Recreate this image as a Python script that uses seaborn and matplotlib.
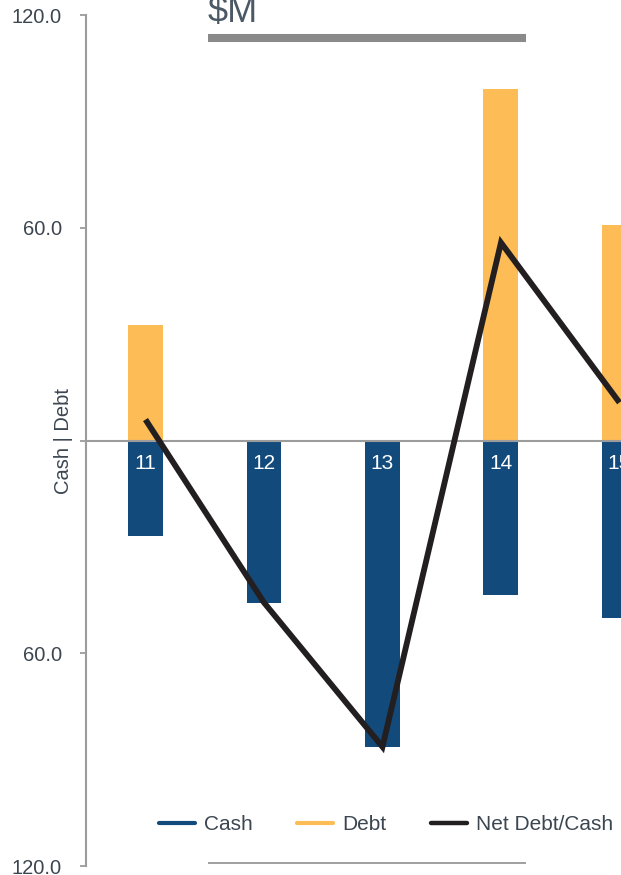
import numpy as np
import pandas as pd
import seaborn as sns
import matplotlib
matplotlib.use("Agg")
import matplotlib.pyplot as plt
from matplotlib.lines import Line2D

# ---- data ($M) ----
years = ["11", "12", "13", "14", "15"]
cash = [27.0, 45.7, 86.4, 43.5, 50.0]        # drawn below zero
debt = [32.6, 0.0, 0.0, 99.0, 60.7]          # drawn above zero
net_debt_cash = [5.9, -45.7, -86.4, 55.8, 10.7]

tick_values = [-120, -60, 0, 60, 120]
tick_labels = ["120.0", "60.0", "", "60.0", "120.0"]

# ---- style ----
CASH_C = "#134a7c"
DEBT_C = "#fdbc55"
NET_C = "#231f20"
AXIS_C = "#9c9c9c"
TEXT_C = "#3b4651"

sns.set_theme(style="white")
plt.rcParams["font.family"] = ["Liberation Sans", "DejaVu Sans"]

W, H = 621, 875
fig = plt.figure(figsize=(W / 100, H / 100), dpi=100)
ax = fig.add_axes([86 / W, 9 / H, (W - 86) / W, 851 / H])

df = pd.DataFrame({"year": years,
                   "cash": [-c for c in cash],
                   "debt": debt,
                   "net": net_debt_cash,
                   "pos": np.arange(len(years))})

bw = 0.295
sns.barplot(data=df, x="year", y="cash", color=CASH_C, saturation=1,
            width=bw, ax=ax, zorder=2, linewidth=0)
sns.barplot(data=df, x="year", y="debt", color=DEBT_C, saturation=1,
            width=bw, ax=ax, zorder=2, linewidth=0)
ax.axhline(0, color=AXIS_C, lw=1.5, zorder=3)
sns.lineplot(data=df, x="pos", y="net", color=NET_C, lw=4.2, ax=ax,
             zorder=4, solid_joinstyle="miter", solid_capstyle="butt")

# category labels inside the cash bars
for i, y in enumerate(years):
    ax.text(i, -6.4, y, color="white", ha="center", va="center",
            fontsize=15, zorder=5)

ax.set_xlim(-0.502, 4.013)
ax.set_ylim(-120, 120)
ax.set_yticks(tick_values)
ax.set_yticklabels(tick_labels)
ax.tick_params(axis="y", left=True, length=4.3, width=1.3, color=AXIS_C,
               pad=13, labelsize=14.5, labelcolor=TEXT_C)
ax.set_xticks([])
ax.set_xlabel("")
ax.set_ylabel("Cash | Debt", fontsize=14.5, color=TEXT_C)
ax.yaxis.set_label_coords(-0.025, 0.5)
for s in ("top", "right", "bottom"):
    ax.spines[s].set_visible(False)
ax.spines["left"].set_color(AXIS_C)
ax.spines["left"].set_linewidth(1.5)

# title and rules
fig.text(208 / W, 1 - 21.7 / H, "$M", fontsize=26, color="#4b5966",
         ha="left", va="baseline")
fig.add_artist(Line2D([208 / W, 526 / W], [1 - 37.5 / H] * 2,
                      color="#8a8a8a", lw=5.8, solid_capstyle="butt",
                      transform=fig.transFigure))
fig.add_artist(Line2D([208 / W, 526 / W], [1 - 863 / H] * 2,
                      color="#a0a0a0", lw=1.4, solid_capstyle="butt",
                      transform=fig.transFigure))

handles = [Line2D([], [], color=CASH_C, lw=3.0),
           Line2D([], [], color=DEBT_C, lw=3.0),
           Line2D([], [], color=NET_C, lw=3.2)]
fig.legend(handles, ["Cash", "Debt", "Net Debt/Cash"], ncol=3,
           loc="center left", bbox_to_anchor=(159 / W, 1 - 825 / H),
           frameon=False, fontsize=15, handlelength=1.73,
           handletextpad=0.43, columnspacing=2.13, borderpad=0,
           borderaxespad=0, labelcolor=TEXT_C)

fig.savefig("out.png", dpi=100)
